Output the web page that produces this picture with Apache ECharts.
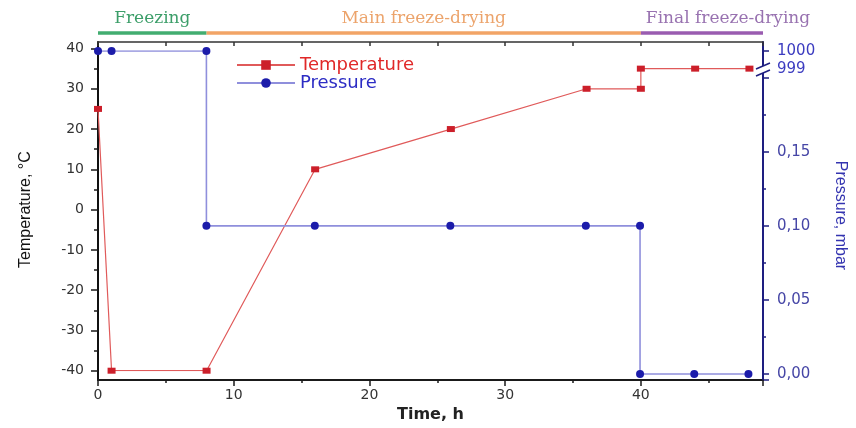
<!DOCTYPE html>
<html>
<head>
<meta charset="utf-8">
<title>Freeze-drying profile</title>
<script src="https://cdn.jsdelivr.net/npm/echarts@6/dist/echarts.min.js"></script>
<style>
  html, body { margin: 0; padding: 0; background: #fff; }
  #chart { width: 856px; height: 428px; }
</style>
</head>
<body>
<div id="chart"></div>
<script>
// temperature profile, time in h / temperature in °C
const tempTime = [0, 1, 8, 16, 26, 36, 40, 40, 44, 48]
const tempValues = [25, -40, -40, 10, 20, 30, 30, 35, 35, 35]
// pressure profile, time in h / pressure in mbar
const pressTime = [0, 1, 8, 8, 16, 26, 36, 40, 40, 44, 48]
const pressValues = [1000, 1000, 1000, 0.1, 0.1, 0.1, 0.1, 0.1, 0, 0, 0]
// process phases (h)
const phaseNames = ['Freezing', 'Main freeze-drying', 'Final freeze-drying']
const phaseStart = [0, 8, 40]
const phaseEnd = [8, 40, 49]
// tick labels on the broken pressure axis
const lowPressTicks = [0, 0.05, 0.1, 0.15]
const highPressTicks = [999, 1000]

const phaseColors = ['#42ad70', '#f2a466', '#9a5cb0']
const phaseTextColors = ['#3c9e69', '#eca46c', '#9872b0']
const NAVY = '#1e1e80'
const SANS = 'DejaVu Sans'

const tempData = tempTime.map((t, i) => [t, tempValues[i]])
const pressData = pressTime.map((t, i) => [t, pressValues[i]])
// part of the pressure curve that sits above the axis break
const pressHigh = pressData.filter(p => p[1] >= highPressTicks[0])

const ctx = document.createElement('canvas').getContext('2d')
ctx.font = '17px "DejaVu Serif"'

const grids = [
  { left: 98, right: 93, top: 42, bottom: 48 },     // frame
  { left: 98, right: 93, top: 48.5, bottom: 57.3 }, // temperature
  { left: 98, right: 93, top: 51, bottom: 48 }      // pressure
]

const chart = echarts.init(document.getElementById('chart'))
chart.setOption({
  animation: false,
  backgroundColor: '#fff',
  grid: grids,
  legend: {
    orient: 'vertical',
    left: 231,
    top: 51,
    itemWidth: 58,
    itemHeight: 12,
    itemGap: 0,
    textStyle: { fontFamily: SANS, fontSize: 18 },
    data: [
      { name: 'Temperature', textStyle: { color: '#e02828' } },
      { name: 'Pressure', textStyle: { color: '#2c2cc4' } }
    ]
  },
  xAxis: [
    {
      gridIndex: 0, type: 'value', min: 0, max: 49, interval: 10, position: 'bottom',
      axisLine: { onZero: false, lineStyle: { color: '#1a1a1a', width: 2 } },
      axisTick: { length: 6, lineStyle: { color: '#1a1a1a', width: 1.5 } },
      minorTick: { show: true, splitNumber: 2, length: 3, lineStyle: { color: '#1a1a1a', width: 1.5 } },
      axisLabel: { showMaxLabel: false, margin: 8, fontFamily: SANS, fontSize: 14, color: '#333' },
      splitLine: { show: false },
      name: 'Time, h', nameLocation: 'middle', nameGap: 26,
      nameTextStyle: { fontFamily: SANS, fontSize: 16, fontWeight: 'bold', color: '#222' }
    },
    {
      gridIndex: 0, type: 'value', min: 0, max: 49, interval: 5, position: 'top',
      axisLine: { onZero: false, lineStyle: { color: '#333', width: 1.5 } },
      axisTick: { inside: true, length: 4, lineStyle: { color: '#333', width: 1.5 } },
      axisLabel: { show: false },
      splitLine: { show: false }
    },
    { gridIndex: 1, type: 'value', min: 0, max: 49, show: false },
    { gridIndex: 2, type: 'value', min: 0, max: 49, show: false }
  ],
  yAxis: [
    {
      gridIndex: 0, type: 'value', min: 0, max: 1, position: 'left',
      axisLine: { show: true, onZero: false, lineStyle: { color: '#111', width: 2 } },
      axisTick: { show: false }, axisLabel: { show: false }, splitLine: { show: false }
    },
    {
      gridIndex: 0, type: 'value', min: 0, max: 1, position: 'right',
      axisLine: { show: true, onZero: false, lineStyle: { color: NAVY, width: 2 } },
      axisTick: { show: false }, axisLabel: { show: false }, splitLine: { show: false }
    },
    {
      gridIndex: 1, type: 'value', min: -40, max: 40, interval: 10, position: 'left',
      axisLine: { show: false, onZero: false },
      axisTick: { show: true, length: 7, lineStyle: { color: '#1a1a1a', width: 1.5 } },
      minorTick: { show: true, splitNumber: 2, length: 4, lineStyle: { color: '#1a1a1a', width: 1.5 } },
      axisLabel: { margin: 14, fontFamily: SANS, fontSize: 14, color: '#333' },
      splitLine: { show: false },
      name: 'Temperature, °C', nameLocation: 'middle', nameGap: 64, nameRotate: 90,
      nameTextStyle: { fontFamily: 'Liberation Sans', fontSize: 16, color: '#111' }
    },
    {
      gridIndex: 2, type: 'value', min: -0.004, max: 0.218, position: 'right',
      axisLine: { show: false, onZero: false },
      axisTick: { show: true, length: 7, lineStyle: { color: NAVY, width: 1.5 } },
      minorTick: { show: true, splitNumber: 2, length: 4, lineStyle: { color: NAVY, width: 1.5 } },
      axisLabel: {
        margin: 15, fontFamily: SANS, fontSize: 15, color: '#4646a6',
        formatter: v => lowPressTicks.some(t => Math.abs(t - v) < 1e-9) ? v.toFixed(2).replace('.', ',') : ''
      },
      splitLine: { show: false },
      name: 'Pressure, mbar', nameLocation: 'middle', nameGap: 70, nameRotate: -90,
      nameTextStyle: { fontFamily: 'Liberation Sans', fontSize: 16, color: '#3434b0' }
    },
    {
      gridIndex: 2, type: 'value', min: 982, max: 1000, interval: 1, position: 'right',
      axisLine: { show: false, onZero: false }, axisTick: { show: false },
      axisLabel: {
        margin: 15, fontFamily: SANS, fontSize: 15, color: '#3c3cc0',
        formatter: v => highPressTicks.includes(v) ? String(v) : ''
      },
      splitLine: { show: false }
    }
  ],
  series: [
    {
      name: 'Temperature', type: 'line', xAxisIndex: 2, yAxisIndex: 2,
      data: tempData,
      symbol: 'rect', symbolSize: [8, 6],
      itemStyle: { color: '#cc1f2a' },
      lineStyle: { color: '#e05a5a', width: 1.2 },
      z: 3
    },
    {
      name: 'Pressure', type: 'line', xAxisIndex: 3, yAxisIndex: 3,
      data: pressData,
      symbol: 'circle', symbolSize: 8,
      itemStyle: { color: '#1c1caa' },
      lineStyle: { color: '#8f8fdc', width: 1.6 },
      clip: true,
      z: 4
    },
    {
      name: 'Pressure', type: 'line', xAxisIndex: 3, yAxisIndex: 4,
      data: pressHigh,
      symbol: 'circle', symbolSize: 8,
      itemStyle: { color: '#1c1caa' },
      lineStyle: { color: '#8f8fdc', width: 1.6 },
      clip: true,
      z: 4
    },
    {
      name: 'phases', type: 'custom', xAxisIndex: 0, yAxisIndex: 0,
      data: phaseStart.map((s, i) => [s, phaseEnd[i]]),
      silent: true,
      renderItem: function (params, api) {
        const i = params.dataIndex
        const x0 = api.coord([api.value(0), 0])[0]
        const x1 = api.coord([api.value(1), 0])[0]
        const tw = ctx.measureText(phaseNames[i]).width
        const fits = tw < x1 - x0
        return {
          type: 'group',
          children: [
            {
              type: 'line',
              shape: { x1: x0, y1: 33, x2: x1, y2: 33 },
              style: { stroke: phaseColors[i], lineWidth: 3.5 }
            },
            {
              type: 'text',
              x: fits ? (x0 + x1) / 2 : x0 + 5,
              y: 19,
              style: {
                text: phaseNames[i],
                fill: phaseTextColors[i],
                font: '17px "DejaVu Serif"',
                align: fits ? 'center' : 'left',
                verticalAlign: 'middle'
              }
            }
          ]
        }
      }
    }
  ],
  // break mark on the pressure axis
  graphic: [
    { type: 'rect', shape: { x: 758, y: 66, width: 10, height: 7 }, style: { fill: '#fff' }, z: 100 },
    { type: 'line', shape: { x1: 756, y1: 69, x2: 770, y2: 63 }, style: { stroke: NAVY, lineWidth: 1.5 }, z: 101 },
    { type: 'line', shape: { x1: 756, y1: 76, x2: 770, y2: 70 }, style: { stroke: NAVY, lineWidth: 1.5 }, z: 101 }
  ]
})
</script>
</body>
</html>
